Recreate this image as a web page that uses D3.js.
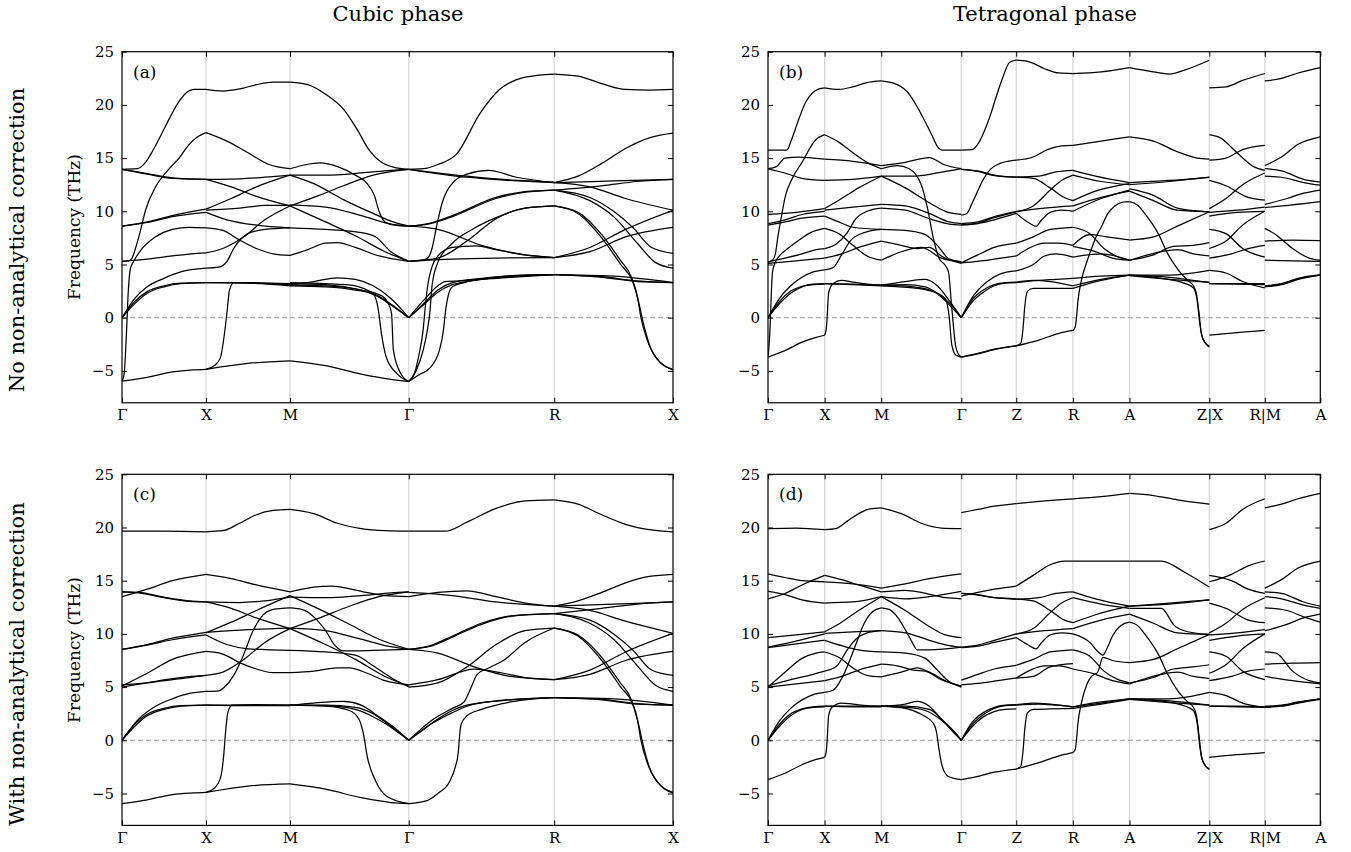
<!DOCTYPE html>
<html><head><meta charset="utf-8">
<script src="https://cdn.jsdelivr.net/npm/d3@7"></script>
<style>body{margin:0;background:#fff} text{font-family:"DejaVu Serif",serif;fill:#000}</style>
</head><body><svg id="c" width="1351" height="852"></svg>
<script>
// ---------- axes data ----------
const cubicLabels = ["Γ","X","M","Γ","R","X"];
const cubicSegLen = [1, 1, 1.414, 1.732, 1.414];
const tetraLabels = ["Γ","X","M","Γ","Z","R","A","Z|X","R|M","A"];
const tetraSegLen = [1, 1, 1.414, 0.97, 1.0, 1.0, 1.41, 0.98, 0.98];
const yTicks = [-5, 0, 5, 10, 15, 20, 25];
const yDomain = [-8, 25];
const panelTags = ["(a)", "(b)", "(c)", "(d)"];
const colTitles = ["Cubic phase", "Tetragonal phase"];
const rowTitles = ["No non-analytical correction", "With non-analytical correction"];
const yTitle = "Frequency (THz)";

// band data: per segment, list of bands; each band = flat [t, f, t, f, ...] (t = fraction along segment, f = THz)
// ---------- (a) cubic, no NAC ----------
const bandsA_GX = [
[0,13.95,.18,14.0,.27,14.5,.36,15.6,.48,17.4,.57,18.8,.66,20.1,.76,21.1,.86,21.45,1,21.45],
[0,13.95,.3,13.5,.6,13.1,1,13.0],
[0,13.95,.3,13.55,.6,13.15,1,13.0],
[0,5.3,.08,5.35,.12,5.6,.16,6.5,.22,8.2,.28,10.1,.4,12.3,.55,13.9,.68,15.0,.79,16.2,.9,17.0,1,17.4],
[0,-5.96,.025,-5.3,.05,-2,.075,2.5,.1,4.6,.14,5.3,.22,6.3,.4,7.6,.6,8.3,.8,8.5,1,8.45],
[0,8.6,.3,9.0,.6,9.6,1,10.2],
[0,8.6,.3,8.95,.6,9.5,1,9.9],
[0,5.3,.3,5.5,.6,5.8,.9,6.05,1,6.1],
[0,0,.15,1.3,.3,2.3,.5,2.9,.7,3.2,1,3.3],
[0,0,.15,1.5,.3,2.45,.5,3.0,.7,3.25,1,3.3],
[0,0,.15,1.8,.3,2.9,.5,3.7,.7,4.3,1,4.65],
[0,-5.96,.3,-5.6,.6,-5.1,.85,-4.9,1,-4.85]
];
const bandsA_XM = [
[0,21.45,.2,21.3,.4,21.5,.6,21.9,.8,22.15,1,22.15],
[0,17.4,.25,16.6,.5,15.5,.75,14.4,1,14.0],
[0,13.0,.4,13.05,.7,13.2,1,13.4],
[0,13.0,.3,12.3,.6,11.4,1,10.5],
[0,10.2,.3,11.2,.6,12.3,1,13.4],
[0,10.1,.4,10.3,.7,10.55,1,10.55],
[0,9.9,.25,9.2,.6,8.7,1,8.45],
[0,8.45,.2,8.2,.4,7.3,.6,6.5,.8,6.0,1,5.85],
[0,6.1,.2,6.5,.45,7.6,.7,9.2,1,10.5],
[0,4.65,.15,4.75,.25,5.3,.33,6.5,.5,7.9,.7,8.3,1,8.45],
[0,3.3,.5,3.3,1,3.2],
[0,3.3,.5,3.25,1,3.0],
[0,-4.85,.1,-4.5,.17,-3.8,.22,-1.5,.25,0.5,.28,2.6,.33,3.3,.6,3.25,1,3.1],
[0,-4.85,.5,-4.3,1,-4.05]
];
const bandsA_MG = [
[0,22.15,.15,21.9,.3,21.0,.45,19.6,.57,17.6,.67,15.7,.77,14.6,.87,14.15,1,13.95],
[0,14.0,.12,14.35,.25,14.55,.4,14.2,.55,13.4,.65,12.6,.71,11.5,.75,10.0,.8,9.0,.88,8.7,1,8.6],
[0,13.4,.3,13.4,.6,13.6,.85,13.85,1,13.95],
[0,10.5,.2,11.3,.45,12.4,.7,13.4,1,13.95],
[0,13.4,.2,12.6,.45,11.1,.7,9.8,.87,9.0,1,8.6],
[0,10.6,.3,10.4,.6,9.6,.85,8.8,1,8.6],
[0,10.5,.3,9.0,.55,7.7,.8,6.2,1,5.3],
[0,8.45,.3,8.3,.6,8.0,.72,7.6,.85,6.2,1,5.3],
[0,5.85,.15,6.4,.3,7.0,.4,7.05,.55,6.6,.75,5.8,1,5.3],
[0,3.1,.2,3.4,.4,3.75,.55,3.6,.7,3.0,.85,1.8,1,0],
[0,3.05,.3,3.0,.55,2.7,.7,2.2,.85,1.2,1,0],
[0,3.3,.3,3.2,.55,3.0,.75,2.0,1,0],
[0,3.0,.3,2.9,.55,2.6,.7,2.2,.74,1.0,.77,-1.5,.81,-3.7,.9,-5.25,1,-6.0],
[0,3.2,.3,3.1,.6,2.6,.78,2.0,.82,1.5,.855,0.4,.87,-3.0,.93,-5.2,1,-6.0],
[0,-4.05,.3,-4.5,.6,-5.3,.85,-5.8,1,-6.0]
];
const bandsA_GR = [
[0,13.95,.1,14.0,.2,14.4,.33,15.4,.49,19.2,.62,21.4,.8,22.6,1,22.9],
[0,13.95,.4,13.2,.75,12.85,1,12.7],
[0,13.95,.4,13.3,.75,12.9,1,12.75],
[0,5.3,.12,5.5,.16,6.5,.19,8.5,.23,10.8,.28,12.3,.4,13.5,.55,13.85,.74,13.2,1,12.7],
[0,8.6,.15,8.9,.3,9.6,.6,11.3,.8,11.85,1,12.0],
[0,8.6,.15,8.85,.3,9.5,.6,11.2,.8,11.8,1,12.0],
[0,8.6,.2,8.3,.5,6.8,.75,6.0,1,5.65],
[0,5.3,.2,5.6,.4,7.2,.6,9.3,.8,10.3,1,10.5],
[0,5.3,.3,5.5,.6,5.6,1,5.65],
[0,-6.0,.04,-5.2,.07,-3.5,.1,-1,.11,0.5,.13,3.0,.16,4.8,.2,5.8,.3,6.6,.46,6.75,.6,6.4,.8,5.9,1,5.65],
[0,-6.0,.05,-5.0,.1,-3.0,.13,-1,.145,0.5,.16,3.0,.2,5.2,.3,7.0,.45,8.4,.6,9.4,.8,10.3,1,10.5],
[0,-6.0,.08,-5.3,.14,-4.8,.21,-3.1,.24,-1,.25,0.3,.27,2.0,.3,2.9,.38,3.3,.6,3.8,.8,4.0,1,4.05],
[0,0,.1,1.3,.2,2.6,.3,3.3,.5,3.7,.8,4.0,1,4.05],
[0,0,.1,1.2,.2,2.4,.3,3.1,.5,3.6,.8,3.95,1,4.05],
[0,0,.1,1.6,.2,3.0,.25,3.4,.4,3.5,.7,3.8,1,4.05]
];
const bandsA_RX = [
[0,22.9,.2,22.7,.4,22.0,.6,21.45,.8,21.4,1,21.45],
[0,12.7,.2,13.3,.4,14.5,.6,15.9,.8,16.9,1,17.35],
[0,12.7,.5,12.85,1,13.0],
[0,12.7,.3,12.3,.6,11.2,1,10.1],
[0,12.0,.4,12.4,.7,12.8,1,13.0],
[0,5.65,.3,6.6,.6,8.3,1,10.1],
[0,5.65,.3,6.2,.6,7.6,1,8.5],
[0,12.0,.3,11.3,.5,10.0,.66,8.5,.82,6.6,1,6.05],
[0,12.0,.3,11.0,.5,9.5,.7,7.0,.85,5.2,1,4.65],
[0,10.5,.2,9.9,.4,7.8,.55,5.5,.65,3.8,.7,2.0,.73,0,.78,-2,.86,-3.8,1,-4.85],
[0,10.5,.2,9.8,.4,7.5,.56,5.0,.66,3.4,.71,1.5,.75,-0.5,.8,-2.5,.9,-4.3,1,-4.9],
[0,4.05,.4,3.8,.7,3.4,1,3.3],
[0,4.05,.4,3.85,.7,3.45,1,3.3],
[0,4.05,.5,3.9,1,3.3]
];
const bandsA = [bandsA_GX, bandsA_XM, bandsA_MG, bandsA_GR, bandsA_RX];

// ---------- (c) cubic, with NAC ----------
const bandsC_GX = [
[0,19.65,.5,19.65,1,19.6],
[0,13.5,.3,14.2,.6,15.0,1,15.6],
[0,13.95,.2,13.85,.5,13.4,.8,13.05,1,13.0],
[0,13.95,.2,13.9,.5,13.45,.8,13.1,1,13.0],
[0,8.55,.3,9.0,.6,9.6,1,10.15],
[0,8.55,.3,8.95,.6,9.45,1,9.9],
[0,5.1,.3,6.3,.6,7.6,1,8.35],
[0,5.2,.4,5.5,.8,5.9,1,6.1],
[0,5.0,.3,5.4,.6,5.8,1,6.1],
[0,0,.2,2.0,.4,3.2,.6,3.9,.8,4.4,1,4.6],
[0,0,.15,1.3,.3,2.3,.5,2.9,.7,3.2,1,3.3],
[0,0,.15,1.5,.3,2.45,.5,3.0,.7,3.25,1,3.3],
[0,-5.95,.3,-5.6,.6,-5.1,.85,-4.95,1,-4.9]
];
const bandsC_XM = [
[0,19.6,.2,19.7,.4,20.4,.6,21.2,.8,21.6,1,21.7],
[0,15.6,.3,15.2,.6,14.6,1,13.95],
[0,13.0,.4,12.95,.7,13.1,1,13.45],
[0,13.0,.3,12.4,.6,11.5,1,10.5],
[0,10.1,.3,11.1,.6,12.2,1,13.6],
[0,10.15,.5,10.4,1,10.55],
[0,9.9,.25,9.0,.5,8.6,1,8.45],
[0,8.35,.2,8.1,.4,7.3,.6,6.7,.8,6.35,1,6.35],
[0,6.1,.2,6.4,.45,7.6,.7,9.2,1,10.5],
[0,4.6,.15,4.65,.22,5.0,.33,6.1,.44,7.9,.56,10.3,.66,11.6,.8,12.3,1,12.45],
[0,3.3,.5,3.3,1,3.3],
[0,3.3,.5,3.25,1,3.25],
[0,-4.9,.1,-4.5,.17,-3.6,.21,-1.5,.23,0.5,.26,2.6,.31,3.3,.6,3.35,1,3.3],
[0,-4.9,.5,-4.3,1,-4.1]
];
const bandsC_MG = [
[0,21.7,.2,21.3,.4,20.4,.6,19.9,.8,19.7,1,19.65],
[0,13.95,.2,14.4,.35,14.5,.6,14.0,.8,13.6,1,13.5],
[0,13.45,.3,13.4,.6,13.6,.85,13.85,1,13.95],
[0,10.5,.25,11.5,.5,12.6,.75,13.5,1,13.95],
[0,13.6,.25,12.3,.5,10.9,.75,9.5,1,8.55],
[0,12.45,.1,12.3,.2,11.6,.3,10.3,.38,8.9,.45,8.4,.7,8.45,1,8.55],
[0,10.55,.3,10.3,.6,9.5,.85,8.8,1,8.55],
[0,10.5,.3,9.0,.55,7.6,.8,6.0,1,5.1],
[0,8.45,.3,8.3,.55,8.0,.7,7.0,.85,5.9,1,5.0],
[0,6.35,.2,6.5,.4,6.8,.5,6.8,.65,6.3,.8,5.6,1,5.2],
[0,3.3,.2,3.5,.45,3.65,.6,3.3,.75,2.2,.9,1.0,1,0],
[0,3.3,.3,3.25,.55,2.9,.72,2.1,.88,1.0,1,0],
[0,3.3,.3,3.3,.55,3.1,.7,2.5,.85,1.3,1,0],
[0,3.3,.3,3.2,.5,2.8,.58,2.0,.62,0.5,.65,-1.5,.72,-3.8,.82,-5.3,1,-5.95],
[0,-4.1,.3,-4.6,.6,-5.4,.85,-5.85,1,-5.95]
];
const bandsC_GR = [
[0,19.65,.25,19.65,.4,20.5,.6,21.8,.8,22.5,1,22.6],
[0,13.5,.2,13.9,.4,14.05,.6,13.5,.8,12.9,1,12.6],
[0,13.9,.3,13.6,.6,13.0,1,12.6],
[0,8.55,.15,8.9,.3,9.8,.5,11.0,.7,11.7,1,11.9],
[0,8.55,.15,8.85,.3,9.7,.5,10.9,.7,11.65,1,11.9],
[0,8.55,.2,8.2,.45,6.9,.7,6.0,1,5.7],
[0,5.0,.2,5.4,.4,6.9,.6,9.0,.8,10.3,1,10.55],
[0,5.2,.2,5.7,.45,6.7,.65,6.3,.8,5.9,1,5.7],
[0,0,.15,1.8,.3,3.0,.38,3.6,.43,5.0,.47,6.2,.55,6.8,.65,7.5,.8,9.2,1,10.55],
[0,0,.15,1.5,.3,2.6,.4,3.2,.6,3.7,1,4.0],
[0,-5.95,.12,-5.7,.2,-5.0,.28,-3.9,.32,-2.5,.34,-1.2,.35,0.5,.36,1.5,.4,2.3,.5,2.9,.7,3.6,1,4.0],
[0,0,.1,1.0,.2,2.0,.3,2.8,.4,3.3,.7,3.8,1,4.0]
];
const bandsC_RX = [
[0,22.6,.2,22.2,.4,21.2,.6,20.3,.8,19.8,1,19.6],
[0,12.6,.2,13.1,.4,13.9,.6,14.8,.8,15.4,1,15.6],
[0,12.6,.5,12.8,1,13.0],
[0,12.6,.3,12.2,.6,11.2,1,10.05],
[0,11.9,.4,12.4,.7,12.8,1,13.0],
[0,5.7,.3,6.6,.6,8.3,1,10.05],
[0,5.7,.3,6.2,.6,7.5,1,8.35],
[0,11.9,.3,11.3,.5,10.0,.66,8.5,.82,6.6,1,6.1],
[0,11.9,.3,11.0,.5,9.5,.7,7.0,.85,5.2,1,4.6],
[0,10.55,.2,9.9,.4,7.8,.55,5.5,.65,3.8,.7,2.0,.73,0,.78,-2,.86,-3.8,1,-4.9],
[0,10.55,.2,9.8,.4,7.5,.56,5.0,.66,3.4,.71,1.5,.75,-0.5,.8,-2.5,.9,-4.3,1,-4.95],
[0,4.0,.4,3.8,.7,3.4,1,3.3],
[0,4.0,.4,3.85,.7,3.45,1,3.3],
[0,4.0,.5,3.9,1,3.3]
];
const bandsC = [bandsC_GX, bandsC_XM, bandsC_MG, bandsC_GR, bandsC_RX];

// ---------- (b) tetragonal, no NAC ----------
const bandsB_GX = [
[0,15.75,.33,15.75,.42,16.8,.54,18.6,.66,20.2,.78,21.1,.9,21.5,1,21.6],
[0,14.0,.15,14.2,.3,15.0,.55,15.1,.8,15.0,1,14.9],
[0,14.0,.3,13.6,.6,13.1,1,12.9],
[0,5.2,.08,5.4,.13,6.0,.18,7.8,.22,9.0,.31,11.5,.42,13.0,.6,14.6,.84,16.7,1,17.2],
[0,-3.7,.02,-2.5,.04,-0.5,.06,2.5,.08,4.3,.12,5.1,.2,5.8,.35,6.5,.55,7.3,.75,8.0,1,8.4],
[0,9.7,.5,9.9,1,10.25],
[0,8.85,.3,9.2,.6,9.7,1,10.0],
[0,8.7,.3,9.0,.6,9.35,1,9.55],
[0,5.25,.3,5.6,.6,6.0,.85,6.4,1,6.5],
[0,5.1,.4,5.3,.8,5.5,1,5.6],
[0,0,.2,1.8,.4,3.0,.6,3.8,.8,4.3,1,4.5],
[0,0,.2,1.5,.4,2.5,.6,2.95,.8,3.15,1,3.2],
[0,0,.2,1.3,.4,2.3,.6,2.9,.8,3.1,1,3.15],
[0,-3.7,.3,-3.1,.6,-2.3,.85,-1.85,1,-1.65]
];
const bandsB_XM = [
[0,21.6,.25,21.45,.5,21.7,.75,22.1,1,22.25],
[0,17.2,.25,16.5,.5,15.5,.75,14.6,1,14.0],
[0,14.9,.5,14.7,1,14.3],
[0,12.9,.5,13.0,1,13.3],
[0,10.25,.3,11.2,.6,12.2,1,13.3],
[0,10.1,.5,10.4,1,10.65],
[0,9.55,.25,9.0,.5,8.5,1,8.3],
[0,8.4,.25,7.9,.5,6.8,.75,5.8,1,5.4],
[0,6.5,.2,6.9,.4,8.0,.55,9.3,.75,10.0,1,10.3],
[0,5.6,.3,6.0,.6,6.6,1,7.2],
[0,4.5,.15,4.7,.3,5.9,.45,7.2,.7,8.0,1,8.3],
[0,3.2,.5,3.15,1,3.05],
[0,3.2,.5,3.1,1,3.0],
[0,-1.65,.03,-1.0,.05,0.5,.07,2.3,.13,3.1,.3,3.5,.5,3.35,.75,3.15,1,3.05]
];
const bandsB_MG = [
[0,22.25,.2,21.9,.35,21.0,.45,19.8,.55,18.4,.63,17.2,.7,16.1,.76,15.75,1,15.75],
[0,14.3,.3,14.6,.6,15.05,.78,14.4,1,14.0],
[0,14.0,.2,14.3,.35,14.0,.5,12.5,.58,10.2,.65,7.5,.72,5.6,.8,4.9,.84,4.3,.88,1.0,.93,-2.7,.97,-3.5,1,-3.7],
[0,13.3,.3,12.2,.6,10.8,.8,10.0,1,9.7],
[0,13.3,.4,13.3,.7,13.6,1,14.0],
[0,10.65,.3,10.5,.6,9.8,.85,9.0,1,8.85],
[0,10.3,.3,10.1,.6,9.3,.85,8.8,1,8.7],
[0,8.3,.3,8.2,.55,7.8,.7,6.8,.85,5.5,1,5.25],
[0,7.2,.2,6.9,.45,6.5,.6,6.6,.75,5.8,1,5.1],
[0,5.4,.25,6.2,.5,6.6,.75,5.6,1,5.25],
[0,3.05,.3,3.1,.55,2.9,.75,2.0,.9,1.0,1,0],
[0,3.05,.3,3.4,.55,3.6,.7,3.0,.85,1.6,1,0],
[0,3.05,.4,2.9,.65,2.5,.8,1.6,.9,0.8,1,0],
[0,3.0,.4,2.8,.7,2.3,.8,1.8,.85,0,.88,-2.5,.93,-3.5,1,-3.7]
];
const bandsB_GZ = [
[0,15.75,.2,15.8,.3,16.3,.5,18.6,.65,21.0,.75,22.5,.88,24.0,1,24.2],
[0,9.65,.1,9.8,.2,10.8,.28,11.7,.4,13.0,.52,13.9,.7,14.5,.85,14.7,1,14.8],
[0,13.95,.3,13.8,.6,13.4,1,13.2],
[0,13.95,.3,13.75,.6,13.35,1,13.2],
[0,8.75,.3,8.9,.6,9.4,1,9.95],
[0,8.85,.3,9.0,.6,9.5,1,10.0],
[0,8.7,.3,8.85,.6,9.2,1,9.8],
[0,5.15,.3,5.9,.6,6.6,1,7.0],
[0,5.15,.3,5.3,.6,5.5,1,5.8],
[0,0,.2,1.9,.45,3.3,.7,4.1,1,4.4],
[0,0,.2,1.7,.4,2.6,.6,3.1,.8,3.3,1,3.35],
[0,0,.2,1.5,.4,2.4,.6,3.0,.8,3.25,1,3.3],
[0,-3.7,.3,-3.4,.6,-3.0,1,-2.65],
[0,-3.7,.3,-3.35,.6,-2.95,1,-2.65]
];
const bandsB_ZR = [
[0,24.2,.2,24.1,.5,23.4,.75,23.0,1,22.95],
[0,14.8,.3,15.1,.55,15.8,.8,16.15,1,16.2],
[0,13.2,.3,13.1,.6,12.2,.85,11.3,1,11.0],
[0,13.2,.4,13.3,.7,13.7,1,13.85],
[0,9.95,.3,10.5,.6,12.0,.8,12.9,1,13.4],
[0,10.0,.5,10.3,1,10.5],
[0,9.8,.2,9.0,.35,8.6,.45,9.2,.6,9.9,.8,10.1,1,10.0],
[0,7.0,.3,7.6,.6,8.3,1,8.5],
[0,5.8,.25,6.6,.5,7.0,.75,7.0,1,6.8],
[0,4.4,.3,5.0,.5,5.8,.7,6.0,1,5.7],
[0,3.35,.3,3.5,.6,3.4,1,3.0],
[0,3.3,.4,3.5,.7,3.6,1,3.7],
[0,-2.65,.08,-2.4,.12,-1,.15,1.0,.2,2.5,.3,2.75,.6,2.75,1,2.75],
[0,-2.65,.4,-2.1,.8,-1.4,1,-1.2]
];
const bandsB_RA = [
[0,22.95,.5,23.1,1,23.5],
[0,16.2,.5,16.6,1,17.0],
[0,13.85,.4,13.3,1,12.7],
[0,13.4,.5,12.8,1,12.5],
[0,11.0,.4,11.9,1,12.6],
[0,10.5,.5,11.3,1,11.9],
[0,10.0,.5,11.2,1,12.0],
[0,-1.2,.04,-0.9,.06,-0.2,.09,1.6,.15,3.5,.25,5.3,.33,6.5,.42,7.7,.5,8.5,.62,9.8,.74,10.5,.87,10.85,1,10.9],
[0,8.5,.3,7.9,.55,6.5,.8,5.7,1,5.4],
[0,6.8,.3,7.8,.6,7.6,1,7.3],
[0,6.7,.4,6.2,.7,5.6,1,5.4],
[0,5.7,.5,6.0,1,5.4],
[0,3.7,.5,3.9,1,4.0],
[0,3.0,.5,3.6,1,4.0],
[0,2.75,.5,3.5,1,4.0]
];
const bandsB_AZ = [
[0,23.5,.3,23.1,.5,22.9,.7,23.3,1,24.2],
[0,17.0,.3,16.6,.6,15.6,.85,15.0,1,14.9],
[0,12.7,.5,12.9,1,13.2],
[0,12.5,.5,12.8,1,13.2],
[0,11.9,.3,11.0,.6,10.1,1,9.95],
[0,12.1,.3,11.5,.6,10.3,1,9.95],
[0,10.9,.1,10.6,.19,9.8,.36,7.9,.48,6.0,.61,4.5,.73,3.5,.8,3.0,.84,2.2,.87,0.5,.9,-1.5,.95,-2.4,1,-2.75],
[0,4.0,.4,3.7,.7,3.2,.8,2.8,.85,1.5,.88,-0.5,.92,-2.0,1,-2.7],
[0,7.3,.3,7.6,.6,8.6,1,9.95],
[0,5.4,.3,5.9,.55,6.7,.8,6.8,1,7.05],
[0,5.4,.4,6.2,.6,6.4,.8,6.0,1,5.8],
[0,4.0,.5,3.8,1,3.3],
[0,3.95,.5,3.6,1,3.35],
[0,4.0,.5,4.0,1,4.45]
];
const bandsB_XR = [
[0,21.6,.3,21.7,.6,22.3,1,22.95],
[0,17.2,.2,16.9,.5,15.5,.8,14.2,1,13.85],
[0,14.8,.3,15.0,.6,15.8,1,16.2],
[0,12.9,.3,12.4,.7,11.3,1,11.05],
[0,10.25,.3,11.2,.6,12.5,1,13.6],
[0,9.9,.5,10.1,1,10.4],
[0,9.55,.5,9.9,1,10.0],
[0,8.3,.3,7.9,.6,6.5,1,5.7],
[0,6.5,.3,7.2,.6,8.7,1,10.0],
[0,5.6,.4,6.0,.7,6.5,1,6.8],
[0,4.45,.3,4.2,.6,3.4,1,2.8],
[0,3.2,.5,3.15,1,3.1],
[0,3.2,.5,3.2,1,3.2],
[0,-1.65,.5,-1.4,1,-1.2]
];
const bandsB_MA = [
[0,22.25,.3,22.5,.6,23.0,1,23.5],
[0,14.3,.3,15.1,.6,16.3,1,17.0],
[0,14.0,.3,13.8,.7,13.0,1,12.75],
[0,13.3,.3,13.2,.7,12.7,1,12.45],
[0,10.65,.4,11.2,.7,11.7,1,12.0],
[0,10.35,.5,10.6,1,10.9],
[0,8.4,.2,7.8,.5,6.5,.8,5.6,1,5.4],
[0,7.2,.5,7.3,1,7.25],
[0,5.4,.5,5.35,1,5.3],
[0,2.9,.3,3.1,.6,3.6,1,4.0],
[0,2.95,.3,3.15,.6,3.65,1,4.0],
[0,3.0,.3,3.2,.6,3.7,1,4.05]
];
const bandsB = [bandsB_GX, bandsB_XM, bandsB_MG, bandsB_GZ, bandsB_ZR, bandsB_RA, bandsB_AZ, bandsB_XR, bandsB_MA];

// ---------- (d) tetragonal, with NAC ----------
const bandsD_GX = [
[0,19.9,.5,19.95,1,19.8],
[0,15.65,.3,15.3,.6,15.0,1,14.9],
[0,13.3,.3,13.8,.6,14.6,1,15.5],
[0,14.0,.3,13.7,.6,13.2,1,12.9],
[0,9.65,.5,9.9,1,10.2],
[0,8.75,.4,9.2,1,10.0],
[0,8.7,.4,9.0,1,9.4],
[0,5.0,.3,6.4,.6,7.7,.85,8.2,1,8.3],
[0,5.1,.4,5.7,.8,6.2,1,6.5],
[0,5.0,.5,5.3,1,5.6],
[0,0,.2,1.8,.4,3.0,.6,3.8,.8,4.3,1,4.5],
[0,0,.2,1.5,.4,2.5,.6,2.95,.8,3.15,1,3.2],
[0,0,.2,1.3,.4,2.3,.6,2.9,.8,3.1,1,3.15],
[0,-3.7,.3,-3.1,.6,-2.3,.85,-1.8,1,-1.6]
];
const bandsD_XM = [
[0,19.8,.2,19.9,.4,20.6,.6,21.3,.8,21.75,1,21.85],
[0,15.5,.3,15.1,.6,14.6,1,13.95],
[0,14.9,.5,14.7,1,14.3],
[0,12.9,.5,13.0,1,13.5],
[0,10.2,.3,11.1,.6,12.2,1,13.5],
[0,10.05,.5,10.2,1,10.3],
[0,9.4,.3,8.9,.6,8.5,1,8.3],
[0,8.3,.25,7.8,.5,6.8,.75,6.1,1,5.95],
[0,6.5,.2,6.9,.4,8.5,.55,9.5,.75,10.1,1,10.3],
[0,5.6,.3,6.0,.6,6.6,1,7.15],
[0,4.5,.15,4.7,.3,5.8,.45,7.6,.55,9.0,.7,11.0,.85,12.1,1,12.45],
[0,3.2,.5,3.2,1,3.2],
[0,3.2,.5,3.15,1,3.15],
[0,-1.6,.03,-1.0,.05,0.5,.07,2.3,.13,3.1,.3,3.5,.5,3.4,.75,3.25,1,3.2]
];
const bandsD_MG = [
[0,21.85,.25,21.3,.5,20.4,.75,19.95,1,19.9],
[0,14.3,.3,14.7,.6,15.2,1,15.65],
[0,13.95,.3,14.1,.5,13.9,.8,13.4,1,13.3],
[0,13.5,.3,13.3,.6,13.5,1,14.0],
[0,12.45,.1,12.3,.2,11.6,.3,10.4,.38,9.3,.45,8.5,.6,8.5,1,8.75],
[0,13.5,.3,12.2,.6,10.7,.8,9.9,1,9.65],
[0,10.3,.3,10.1,.6,9.4,.85,8.9,1,8.75],
[0,8.3,.3,8.2,.55,7.7,.7,6.6,.85,5.5,1,5.1],
[0,7.15,.2,7.0,.4,6.6,.55,6.5,.75,5.7,1,5.1],
[0,5.95,.25,6.4,.45,6.8,.6,6.4,.8,5.6,1,5.0],
[0,3.2,.3,3.4,.45,3.65,.6,3.2,.75,2.0,.9,0.9,1,0],
[0,3.2,.3,3.1,.55,2.8,.75,1.9,.9,0.9,1,0],
[0,3.2,.3,3.2,.6,2.9,.8,1.6,.92,0.6,1,0],
[0,3.2,.3,3.0,.51,2.4,.65,1.6,.69,0.8,.72,-0.8,.76,-2.4,.84,-3.4,1,-3.7]
];
const bandsD_GZ = [
[0,21.4,.3,21.7,.6,22.0,1,22.25],
[0,13.55,.3,13.9,.6,14.2,1,14.5],
[0,13.8,.3,13.7,.6,13.4,1,13.3],
[0,13.8,.3,13.65,.6,13.4,1,13.25],
[0,8.75,.3,8.95,.6,9.4,1,10.0],
[0,8.7,.3,8.85,.6,9.2,1,9.65],
[0,5.65,.3,6.2,.6,6.7,1,7.05],
[0,5.2,.3,5.35,.6,5.55,1,5.85],
[0,0,.2,1.7,.4,2.6,.6,3.1,.8,3.3,1,3.35],
[0,0,.2,1.5,.4,2.4,.6,3.0,.8,3.25,1,3.3],
[0,0,.2,1.3,.4,2.2,.6,2.7,.8,2.9,1,2.95],
[0,-3.7,.3,-3.4,.6,-3.0,1,-2.7]
];
const bandsD_ZR = [
[0,22.25,.5,22.5,1,22.7],
[0,14.5,.3,15.5,.6,16.5,.85,16.85,1,16.85],
[0,13.3,.3,13.1,.6,12.2,.85,11.3,1,11.05],
[0,13.25,.4,13.4,.7,13.8,1,13.95],
[0,10.0,.3,10.5,.6,12.0,.8,12.9,1,13.4],
[0,10.0,.5,10.3,1,10.5],
[0,9.65,.2,9.0,.35,8.6,.45,9.2,.6,9.9,.8,10.1,1,10.0],
[0,7.05,.3,7.6,.6,8.3,1,8.5],
[0,5.85,.25,6.6,.5,7.0,.75,7.0,1,6.7],
[0,5.85,.3,6.0,.6,6.9,1,7.2],
[0,3.35,.3,3.5,.6,3.4,1,3.15],
[0,3.3,.4,3.4,.7,3.3,1,3.15],
[0,-2.7,.08,-2.45,.12,-1,.15,1.0,.2,2.6,.3,2.9,.6,2.95,1,3.0],
[0,-2.7,.4,-2.1,.8,-1.4,1,-1.15]
];
const bandsD_RA = [
[0,22.7,.5,22.9,1,23.2],
[0,16.85,.5,16.85,1,16.85],
[0,13.95,.4,13.3,1,12.6],
[0,13.4,.5,12.8,1,12.4],
[0,11.05,.4,11.8,1,12.6],
[0,10.5,.5,11.3,1,11.85],
[0,10.0,.3,9.2,.45,8.3,.53,8.0,.6,8.6,.7,9.8,.85,10.8,1,11.1],
[0,-1.15,.04,-0.9,.06,-0.2,.09,1.6,.15,3.5,.25,5.3,.33,6.0,.44,6.4,.53,7.8,.7,7.5,1,7.3],
[0,8.5,.3,7.9,.55,6.5,.8,5.7,1,5.4],
[0,6.7,.4,6.2,.7,5.6,1,5.3],
[0,3.15,.5,3.6,1,3.9],
[0,3.15,.5,3.5,1,3.9],
[0,3.0,.5,3.4,1,3.85]
];
const bandsD_AZ = [
[0,23.2,.3,23.0,.6,22.6,1,22.2],
[0,16.85,.4,16.85,.69,15.8,1,14.4],
[0,12.6,.5,12.9,1,13.2],
[0,12.6,.5,12.8,1,13.2],
[0,11.85,.3,11.0,.6,10.1,1,9.95],
[0,12.4,.4,12.4,.56,10.8,.73,10.2,1,9.95],
[0,11.1,.1,10.8,.19,10.0,.36,8.1,.48,6.2,.61,4.6,.73,3.6,.8,3.1,.84,2.3,.87,0.5,.9,-1.5,.95,-2.4,1,-2.75],
[0,3.9,.4,3.7,.7,3.2,.8,2.8,.85,1.5,.88,-0.5,.92,-2.0,1,-2.7],
[0,7.3,.3,7.6,.6,8.6,1,9.95],
[0,5.4,.3,5.9,.55,6.7,.8,6.9,1,7.1],
[0,5.3,.4,6.2,.6,6.4,.8,6.0,1,5.8],
[0,3.9,.5,3.7,1,3.3],
[0,3.85,.5,3.55,1,3.3],
[0,3.9,.5,3.9,1,4.5]
];
const bandsD_XR = [
[0,19.8,.3,20.4,.6,21.7,1,22.7],
[0,14.9,.4,15.6,.7,16.4,1,16.85],
[0,15.5,.4,15.0,.7,14.2,1,13.8],
[0,12.9,.3,12.4,.7,11.3,1,11.05],
[0,10.1,.3,11.0,.6,12.3,1,13.4],
[0,9.9,.5,10.1,1,10.4],
[0,9.4,.5,9.8,1,10.0],
[0,8.3,.3,7.9,.6,6.5,1,5.7],
[0,6.3,.3,7.1,.6,8.6,1,10.0],
[0,5.6,.4,6.0,.7,6.5,1,6.7],
[0,4.5,.3,4.2,.6,3.5,1,3.1],
[0,3.2,.5,3.15,1,3.1],
[0,3.2,.5,3.2,1,3.15],
[0,-1.6,.5,-1.35,1,-1.15]
];
const bandsD_MA = [
[0,21.85,.3,22.2,.6,22.7,1,23.2],
[0,14.3,.3,15.1,.6,16.2,1,16.85],
[0,13.95,.3,13.8,.7,13.0,1,12.6],
[0,13.5,.3,13.3,.7,12.7,1,12.4],
[0,12.45,.4,12.2,.7,11.6,1,11.1],
[0,10.3,.4,10.9,.7,11.5,1,11.85],
[0,8.3,.2,8.2,.5,6.5,.8,5.6,1,5.4],
[0,7.15,.5,7.25,1,7.3],
[0,6.0,.5,5.6,1,5.3],
[0,3.2,.3,3.3,.6,3.6,1,3.9],
[0,3.15,.3,3.25,.6,3.55,1,3.9],
[0,3.1,.3,3.2,.6,3.5,1,3.85]
];
const bandsD = [bandsD_GX, bandsD_XM, bandsD_MG, bandsD_GZ, bandsD_ZR, bandsD_RA, bandsD_AZ, bandsD_XR, bandsD_MA];

// ---------- drawing ----------
const svg = d3.select("#c");
const FONT = '"DejaVu Serif", serif';

const panels = [
  {left:122, right:673,   top:51.7,  bottom:402.8, labels:cubicLabels, seg:cubicSegLen, data:bandsA, tag:panelTags[0]},
  {left:768, right:1320.3,top:51.7,  bottom:402.8, labels:tetraLabels, seg:tetraSegLen, data:bandsB, tag:panelTags[1]},
  {left:122, right:673,   top:474.3, bottom:825.4, labels:cubicLabels, seg:cubicSegLen, data:bandsC, tag:panelTags[2]},
  {left:768, right:1320.3,top:474.3, bottom:825.4, labels:tetraLabels, seg:tetraSegLen, data:bandsD, tag:panelTags[3]}
];

panels.forEach((p, pi) => {
  const cum = [0];
  p.seg.forEach(s => cum.push(cum[cum.length-1] + s));
  const x = d3.scaleLinear().domain([0, cum[cum.length-1]]).range([p.left, p.right]);
  const y = d3.scaleLinear().domain(yDomain).range([p.bottom, p.top]);
  const g = svg.append("g");
  const cid = "clip" + pi;
  svg.append("clipPath").attr("id", cid).append("rect")
    .attr("x", p.left).attr("y", p.top).attr("width", p.right - p.left).attr("height", p.bottom - p.top);

  g.selectAll("line.hs").data(cum.slice(1, -1)).enter().append("line")
    .attr("x1", d => x(d)).attr("x2", d => x(d)).attr("y1", p.top).attr("y2", p.bottom)
    .attr("stroke", "#d6d6d6").attr("stroke-width", 1.2);
  g.append("line").attr("x1", p.left).attr("x2", p.right).attr("y1", y(0)).attr("y2", y(0))
    .attr("stroke", "#999").attr("stroke-width", 1.1).attr("stroke-dasharray", "5,3");

  const line = d3.line().x(d => d[0]).y(d => d[1]).curve(d3.curveMonotoneX);
  const bg = g.append("g").attr("clip-path", `url(#${cid})`);
  p.data.forEach((segBands, si) => {
    segBands.forEach(b => {
      const pts = [];
      for (let k = 0; k < b.length; k += 2) pts.push([x(cum[si] + b[k] * p.seg[si]), y(b[k+1])]);
      bg.append("path").attr("d", line(pts)).attr("fill", "none")
        .attr("stroke", "#000").attr("stroke-width", 1.25).attr("stroke-linejoin", "round");
    });
  });

  const ax = (gen, tx, ty) => {
    const a = g.append("g").attr("transform", `translate(${tx},${ty})`).call(gen);
    a.select(".domain").remove();
    a.selectAll("line").attr("stroke", "#000").attr("stroke-width", 1);
    a.selectAll("text").attr("font-family", FONT).attr("font-size", 15).attr("fill", "#000");
    return a;
  };
  ax(d3.axisLeft(y).tickValues(yTicks).tickSize(-5).tickPadding(8).tickFormat(d3.format("d")), p.left, 0);
  ax(d3.axisRight(y).tickValues(yTicks).tickSize(-5).tickFormat(""), p.right, 0);
  ax(d3.axisBottom(x).tickValues(cum).tickSize(-5).tickPadding(7).tickFormat((d, i) => p.labels[i]), 0, p.bottom);
  ax(d3.axisTop(x).tickValues(cum).tickSize(-5).tickFormat(""), 0, p.top);

  g.append("rect").attr("x", p.left).attr("y", p.top).attr("width", p.right - p.left).attr("height", p.bottom - p.top)
    .attr("fill", "none").attr("stroke", "#000").attr("stroke-width", 1.2);

  g.append("text").attr("x", p.left + 11).attr("y", p.top + 26).attr("font-family", FONT).attr("font-size", 17).text(p.tag);
});

[[398, colTitles[0]], [1045, colTitles[1]]].forEach(([cx, t]) =>
  svg.append("text").attr("x", cx).attr("y", 21).attr("text-anchor", "middle").attr("font-family", FONT).attr("font-size", 21).text(t));
[[240, rowTitles[0]], [664, rowTitles[1]]].forEach(([cy, t]) =>
  svg.append("text").attr("transform", `translate(24,${cy}) rotate(-90)`).attr("text-anchor", "middle").attr("font-family", FONT).attr("font-size", 21).text(t));
[227, 650].forEach(cy =>
  svg.append("text").attr("transform", `translate(80,${cy}) rotate(-90)`).attr("text-anchor", "middle").attr("font-family", FONT).attr("font-size", 17).text(yTitle));
</script></body></html>
